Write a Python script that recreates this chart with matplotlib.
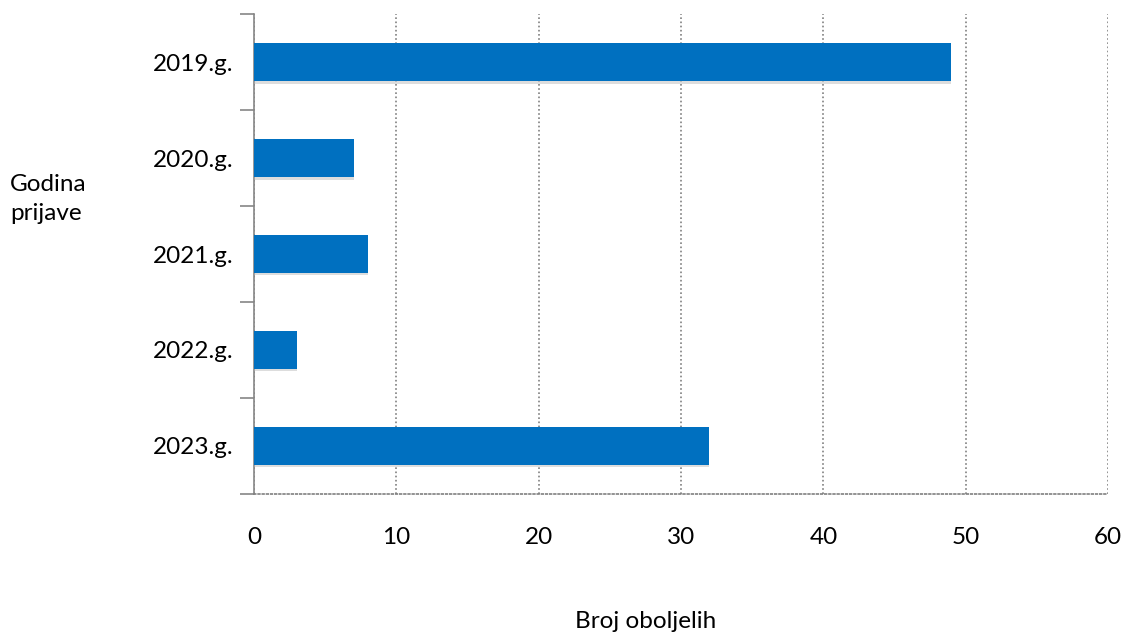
import matplotlib.pyplot as plt
import matplotlib.patheffects as pe
import numpy as np

years = ['2019.g.', '2020.g.', '2021.g.', '2022.g.', '2023.g.']
counts = [49, 7, 8, 3, 32]
xticks = [0, 10, 20, 30, 40, 50, 60]

plt.rcParams['font.family'] = ['Lato', 'DejaVu Sans']

fig = plt.figure(figsize=(11.28, 6.32), dpi=100)
ax = fig.add_axes([0.2252, 0.2184, 0.7571, 0.7594])

pos = np.arange(len(years))
bars = ax.barh(pos, counts, height=0.39, color='#0070C0', zorder=3)
for b in bars:
    b.set_path_effects([pe.SimplePatchShadow(offset=(0, -2), shadow_rgbFace='#aaaaaa', alpha=0.4), pe.Normal()])

ax.set_xlim(0, 60)
ax.set_ylim(4.5, -0.5)
ax.set_xticks(xticks)
ax.set_xticklabels([str(t) for t in xticks], fontsize=17.5)
ax.set_yticks(pos)
ax.set_yticklabels(years, fontsize=17.5)
ax.set_yticks(np.arange(-0.5, 5, 1), minor=True)

ax.tick_params(axis='y', which='major', length=0, pad=15)
ax.tick_params(axis='y', which='minor', length=10, color='#868686', width=1.2)
ax.tick_params(axis='x', length=0, pad=24)

ax.grid(axis='x', linestyle=(0, (1, 1.5)), color='#808080', linewidth=1.2, zorder=0)
for s in ['top', 'right']:
    ax.spines[s].set_visible(False)
ax.spines['left'].set_color('#868686')
ax.spines['left'].set_linewidth(1.2)
ax.spines['bottom'].set_color('#808080')
ax.spines['bottom'].set_linestyle((0, (1, 1.5)))
ax.spines['bottom'].set_linewidth(1.2)

fig.text(0.009, 0.685, 'Godina\nprijave', fontsize=17.5, ha='left', va='center', linespacing=1.45)
fig.text(0.572, 0.016, 'Broj oboljelih', fontsize=17.5, ha='center', va='center')

fig.savefig('out.png', dpi=100)
